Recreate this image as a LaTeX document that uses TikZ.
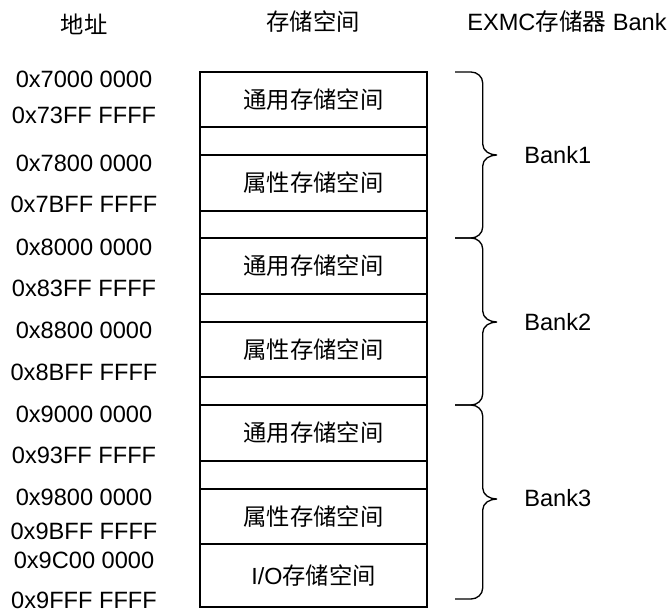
\documentclass[tikz,border=0pt]{standalone}
\usepackage{fontspec}
\setmainfont{Liberation Sans}
\newfontfamily\cjk{Noto Sans CJK SC}
\begin{document}
\begin{tikzpicture}[x=0.75pt,y=-0.75pt,
  txt/.style={inner sep=0pt,font=\fontsize{17.7}{20}\selectfont},
  ctxt/.style={inner sep=0pt,font=\fontsize{17.5}{20}\selectfont\cjk},
  boxline/.style={draw=black,line width=0.8pt},
  bracel/.style={draw=black,line width=1pt,line join=round}]
\useasboundingbox (0,0) rectangle (670,612);
% headers
\node[ctxt] (h1) at (84,24) {地址};
\node[ctxt] (h2) at (313,22) {存储空间};
\node[txt] (h3) at (567,22) {EXMC{\cjk 存储器} Bank};
% memory rows
\foreach \t/\b [count=\i] in {72/127,127/155,155/211,211/238,238/294,294/322,322/377,377/405,405/461,461/489,489/544,544/607}{
  \draw[boxline] (200,\t) rectangle (427,\b);
}
\node[ctxt] (s1) at (313.5,99.5) {通用存储空间};
\node[ctxt] (s2) at (313.5,183) {属性存储空间};
\node[ctxt] (s3) at (313.5,266) {通用存储空间};
\node[ctxt] (s4) at (313.5,349.5) {属性存储空间};
\node[ctxt] (s5) at (313.5,433) {通用存储空间};
\node[ctxt] (s6) at (313.5,516.5) {属性存储空间};
\node[ctxt] (s7) at (313.5,575.5) {{\fontspec{Liberation Sans}I/O}存储空间};
% addresses
\foreach \y/\a [count=\i] in {79.5/0x7000 0000,115/0x73FF FFFF,163/0x7800 0000,204/0x7BFF FFFF,247/0x8000 0000,288/0x83FF FFFF,330.5/0x8800 0000,372/0x8BFF FFFF,414/0x9000 0000,455/0x93FF FFFF,497.5/0x9800 0000,531.5/0x9BFF FFFF,560/0x9C00 0000,600/0x9FFF FFFF}{
  \node[txt] (a\i) at (84,\y) {\a};
}
% braces
\foreach \t/\m/\b [count=\i] in {72/155/238,238/322/405,405/499/599}{
  \draw[bracel] (455,\t) -- (471,\t) to[out=0,in=90] (482.7,\t+11)
     -- (482.7,\m-11) to[out=-90,in=180] (496.7,\m)
     to[out=180,in=90] (482.7,\m+11) -- (482.7,\b-11)
     to[out=-90,in=0] (471,\b) -- (455,\b);
  \coordinate (tip\i) at (496.7,\m);
}
\node[txt,anchor=west] (b1) at (524,155) {Bank1};
\node[txt,anchor=west] (b2) at (524,322) {Bank2};
\node[txt,anchor=west] (b3) at (524,498) {Bank3};
\end{tikzpicture}
\end{document}
